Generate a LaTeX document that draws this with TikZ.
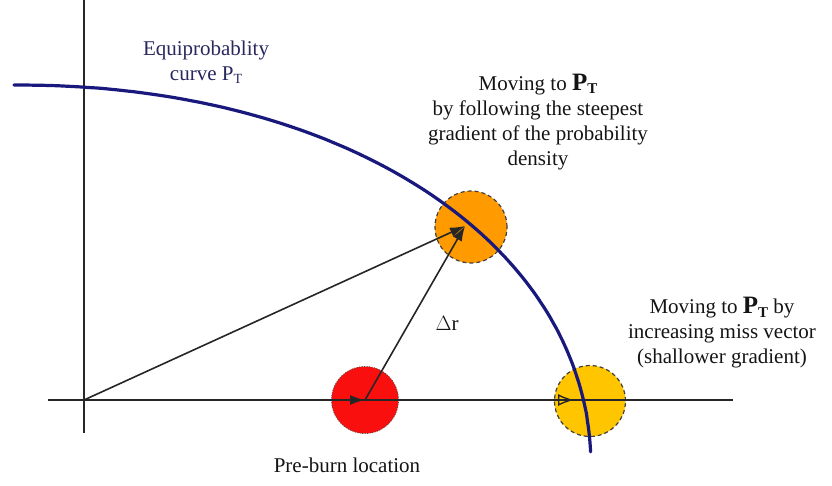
\documentclass[tikz,border=0pt]{standalone}
\usepackage{fontspec}
\setmainfont{Liberation Serif}
\usetikzlibrary{arrows.meta}
\definecolor{navy}{RGB}{25,25,125}
\definecolor{labelnavy}{RGB}{40,40,95}
\definecolor{txt}{RGB}{20,20,20}
\definecolor{orangefill}{RGB}{255,154,0}
\definecolor{yellowfill}{RGB}{255,198,0}
\definecolor{redfill}{RGB}{250,15,15}
\newcommand{\PTbold}{{\fontsize{25}{25}\selectfont\bfseries P}\raisebox{-0.35ex}{\fontsize{15}{15}\selectfont\bfseries T}}
\newcommand{\PTreg}{P\raisebox{-0.35ex}{\fontsize{14}{14}\selectfont T}}
\tikzset{
  axisline/.style={line width=1.6pt, draw=black!85},
  vecarrow/.style={line width=1.6pt, draw=black!85, -{Latex[length=15pt,width=10pt]}},
  openarrow/.style={line width=1.5pt, draw=black!85, -{Latex[open,length=16pt,width=12pt,line width=1.4pt]}},
  dashcirc/.style={circle, minimum size=#1, inner sep=0pt, draw=black!75, line width=1.2pt, dash pattern=on 4pt off 3pt},
  dotcirc/.style={circle, minimum size=#1, inner sep=0pt, draw=black!70, line width=0.8pt, dash pattern=on 1pt off 1.5pt},
  lbl/.style={text=txt, font=\fontsize{21}{25}\selectfont, align=center, inner sep=0pt},
  curveline/.style={line width=3.2pt, draw=navy, line cap=round}
}
\begin{document}
\begin{tikzpicture}[x=1pt,y=-1pt]
\useasboundingbox (0,0) rectangle (832,485);
% circles
\node[dotcirc=67pt, fill=redfill] (red) at (365,400) {};
\node[dashcirc=72pt, fill=orangefill] (orange) at (471,227) {};
\node[dashcirc=71pt, fill=yellowfill] (yellow) at (590,401) {};
% axes
\coordinate (O) at (84,400);
\coordinate (xl) at (48,400);
\coordinate (xr) at (733,400);
\coordinate (yt) at (84,0);
\coordinate (yb) at (84,433);
\draw[axisline] (xl) -- (xr);
\draw[axisline] (yt) -- (yb);
% equiprobability curve (super-ellipse quadrant)
\draw[curveline] plot[domain=2.3:90, samples=120, smooth] ({14+577*pow(cos(\x),0.952)}, {470-385*pow(sin(\x),0.952)});
% vectors
\coordinate (otip) at (465,226);
\coordinate (ytip) at (574,400);
\draw[vecarrow] (O) -- (otip);
\draw[vecarrow] (red.center) -- (otip);
\draw[vecarrow] (O) -- (red.center);
\draw[openarrow] (red.center) -- (ytip);
% labels
\node[lbl, text=labelnavy] (equi) at (206,62) {Equiprobablity\\curve \PTreg};
\node[lbl] (steep) at (538,122) {Moving to \PTbold\\by following the steepest\\gradient of the probability\\density};
\node[lbl] (shallow) at (722,333) {Moving to \PTbold{} by\\increasing miss vector\\(shallower gradient)};
\node[lbl] (dr) at (447,323) {$\Delta$r};
\node[lbl] (pre) at (347,465) {Pre-burn location};
\end{tikzpicture}
\end{document}
